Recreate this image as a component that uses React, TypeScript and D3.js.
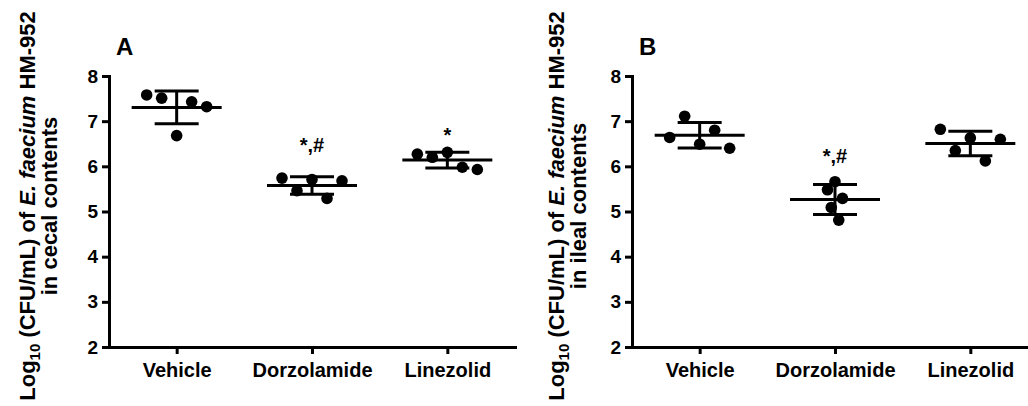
import React, { useEffect, useRef } from 'react';
import * as d3 from 'd3';

const FONT = 'Arial, "Liberation Sans", sans-serif';

const categories = ['Vehicle', 'Dorzolamide', 'Linezolid'];
const yTicks = [2, 3, 4, 5, 6, 7, 8];

// log10 CFU/mL, listed left to right as the dots sit in each column
const cecalVehicle = [7.58, 7.51, 6.68, 7.43, 7.32];
const cecalDorzolamide = [5.74, 5.46, 5.71, 5.29, 5.68];
const cecalLinezolid = [6.27, 6.2, 6.31, 5.98, 5.93];

const ilealVehicle = [6.64, 7.11, 6.49, 6.8, 6.4];
const ilealDorzolamide = [5.48, 5.09, 5.66, 4.81, 5.29];
const ilealLinezolid = [6.82, 6.35, 6.63, 6.12, 6.6];

// significance marks and the value level they are written at
const cecalMarks = ['', '*,#', '*'];
const cecalMarkAt = [0, 6.32, 6.53];
const ilealMarks = ['', '*,#', ''];
const ilealMarkAt = [0, 6.07, 0];

const panels = [
  {
    letter: 'A',
    site: 'in cecal contents',
    left: 109,
    titleGap: 74,
    groups: [cecalVehicle, cecalDorzolamide, cecalLinezolid],
    marks: cecalMarks,
    markAt: cecalMarkAt,
  },
  {
    letter: 'B',
    site: 'in ileal contents',
    left: 632,
    titleGap: 68,
    groups: [ilealVehicle, ilealDorzolamide, ilealLinezolid],
    marks: ilealMarks,
    markAt: ilealMarkAt,
  },
];

function drawPanel(svg: any, p: any) {
  const g = svg.append('g');
  const x = d3
    .scalePoint<string>()
    .domain(categories)
    .range([p.left, p.left + 406])
    .padding(0.5);
  const y = d3.scaleLinear().domain([2, 8]).range([347, 76]);

  // axes
  const xAxis = g
    .append('g')
    .attr('transform', `translate(0,${y(2)})`)
    .call(d3.axisBottom(x).tickSize(7).tickSizeOuter(0).tickPadding(9));
  const yAxis = g
    .append('g')
    .attr('transform', `translate(${p.left},0)`)
    .call(
      d3
        .axisLeft(y)
        .tickValues(yTicks)
        .tickFormat(d3.format('d'))
        .tickSize(7)
        .tickSizeOuter(0)
        .tickPadding(4)
    );
  [xAxis, yAxis].forEach((a) => {
    a.select('.domain').attr('stroke', '#000').attr('stroke-width', 3).attr('stroke-linecap', 'square');
    a.selectAll('.tick line').attr('stroke', '#000').attr('stroke-width', 3);
    a.selectAll('.tick text')
      .attr('fill', '#000')
      .style('font-family', FONT)
      .style('font-weight', 'bold');
  });
  xAxis.selectAll('.tick text').style('font-size', '20px');
  yAxis.selectAll('.tick text').style('font-size', '19px');

  // scatter + mean ± SD
  p.groups.forEach((vals: number[], i: number) => {
    const cat = categories[i];
    const cx0 = x(cat) as number;
    const m = d3.mean(vals) as number;
    const sd = d3.deviation(vals) as number;

    const sorted = vals.map((v) => y(v)).sort((a, b) => a - b);
    const minGap = d3.min(d3.pairs(sorted), ([a, b]) => b - a) as number;
    const step = minGap >= 7 ? 3.75 : 15; // pack tight when dots don't overlap vertically
    const n = vals.length;

    g.selectAll(null)
      .data(vals)
      .join('circle')
      .attr('cx', (_: number, j: number) => cx0 + (j - (n - 1) / 2) * step)
      .attr('cy', (d: number) => y(d))
      .attr('r', 5.8)
      .attr('fill', '#000');

    const bars = g.append('g').attr('stroke', '#000').attr('stroke-width', 3);
    bars.append('line').attr('x1', cx0 - 45).attr('x2', cx0 + 45).attr('y1', y(m)).attr('y2', y(m));
    bars.append('line').attr('x1', cx0 - 22).attr('x2', cx0 + 22).attr('y1', y(m + sd)).attr('y2', y(m + sd));
    bars.append('line').attr('x1', cx0 - 22).attr('x2', cx0 + 22).attr('y1', y(m - sd)).attr('y2', y(m - sd));
    bars.append('line').attr('x1', cx0).attr('x2', cx0).attr('y1', y(m + sd)).attr('y2', y(m - sd));

    if (p.marks[i]) {
      g.append('text')
        .attr('x', cx0)
        .attr('y', y(p.markAt[i]))
        .attr('text-anchor', 'middle')
        .style('font-family', FONT)
        .style('font-weight', 'bold')
        .style('font-size', '20px')
        .text(p.marks[i]);
    }
  });

  // panel letter
  g.append('text')
    .attr('x', p.left + 7)
    .attr('y', 55)
    .style('font-family', FONT)
    .style('font-weight', 'bold')
    .style('font-size', '24px')
    .text(p.letter);

  // y title, two lines
  const t = g
    .append('text')
    .attr('transform', `translate(${p.left - p.titleGap},206) rotate(-90)`)
    .attr('text-anchor', 'middle')
    .style('font-family', FONT)
    .style('font-weight', 'bold')
    .style('font-size', '22px');
  const l1 = t.append('tspan').attr('x', 0).attr('y', 0);
  l1.append('tspan').text('Log');
  l1.append('tspan').attr('dy', 5).style('font-size', '15px').text('10');
  l1.append('tspan').attr('dy', -5).text(' (CFU/mL) of ');
  l1.append('tspan').style('font-style', 'italic').text('E. faecium');
  l1.append('tspan').text(' HM-952');
  t.append('tspan').attr('x', 0).attr('y', 22).text(p.site);
}

export default function App() {
  const svgRef = useRef<SVGSVGElement>(null);

  useEffect(() => {
    const svg = d3.select(svgRef.current);
    svg.selectAll('*').remove();
    panels.forEach((p) => drawPanel(svg, p));
  }, []);

  return (
    <svg
      ref={svgRef}
      width={1028}
      height={406}
      style={{ position: 'absolute', left: 0, top: 0, background: '#fff' }}
    />
  );
}
